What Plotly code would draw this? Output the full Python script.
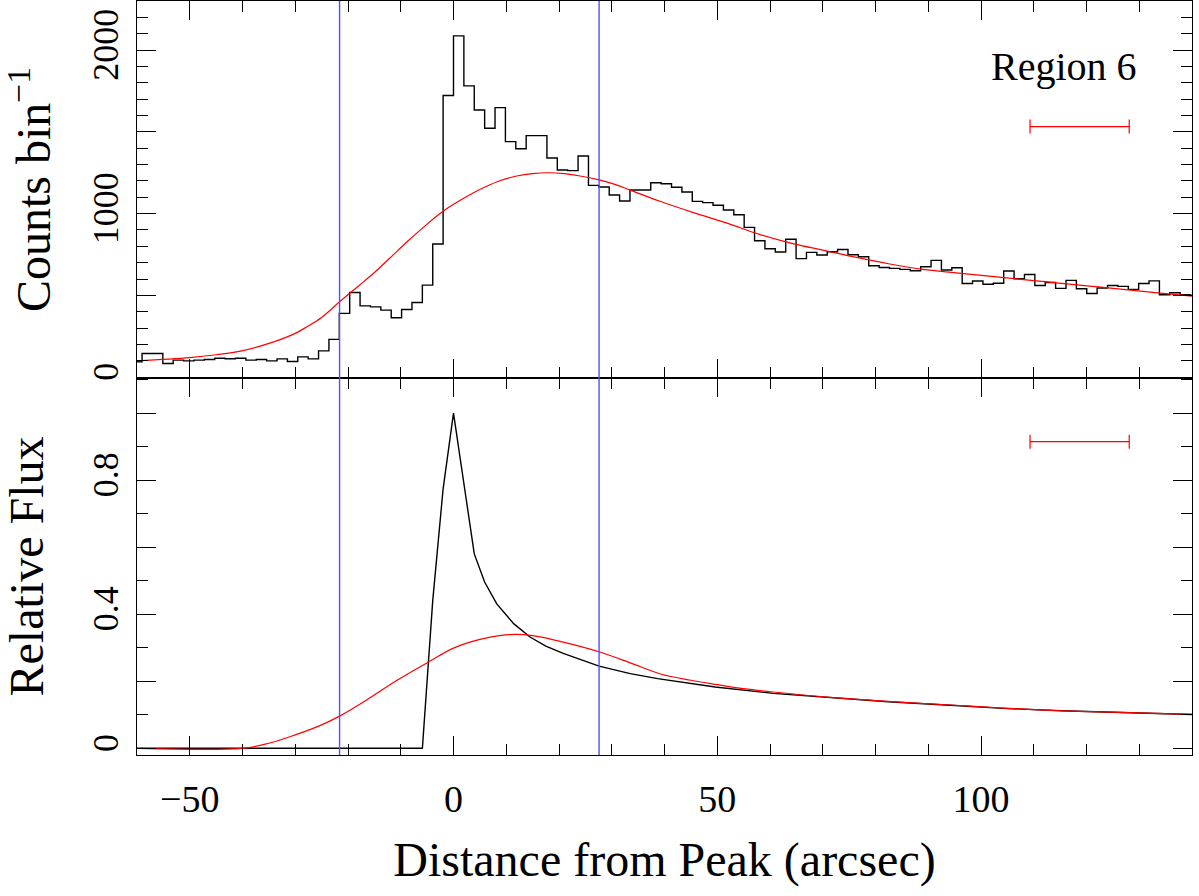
import numpy as np
import plotly.graph_objects as go

# ---------------- data ----------------
BIN_WIDTH = 1.968          # arcsec (4 ACIS pixels)
FIRST_BIN = -31            # index of first bin edge (edge = k * BIN_WIDTH)
counts = [94, 145, 145, 84, 104, 100, 104, 108, 116, 113,
          116, 104, 108, 100, 112, 96, 124, 112, 161, 231,
          390, 518, 436, 430, 410, 363, 414, 457, 563, 814,
          1722, 2087, 1781, 1634, 1522, 1648, 1440, 1397, 1477, 1477,
          1340, 1267, 1263, 1352, 1173, 1163, 1114, 1077, 1144, 1144,
          1189, 1183, 1161, 1132, 1075, 1067, 1051, 1022, 993, 916,
          834, 785, 765, 843, 725, 763, 747, 767, 781, 749,
          736, 681, 671, 665, 659, 651, 675, 714, 655, 669,
          573, 588, 568, 574, 649, 602, 628, 561, 579, 543,
          592, 541, 512, 545, 561, 555, 537, 573, 589, 504,
          516, 504, 500]

model_top_x = [-60, -50, -45, -40.4, -34.1, -30, -27.8, -25, -21.6, -18, -15.15,
               -12, -8.8, -5.5, -2.5, 0, 3.8, 6, 8.8, 12, 15, 18, 21, 24, 27.6,
               30, 33.5, 39, 45.5, 52, 58, 64.5, 70, 76.4, 82.7, 89, 95.3,
               101.6, 108, 114.3, 120.6, 126.9, 133.5, 140]
model_top_y = [100, 120, 137, 159, 216, 268, 308, 365, 461, 558, 635,
               730, 828, 922, 1002, 1057, 1128, 1163, 1201, 1230, 1245, 1250,
               1244, 1230, 1206, 1185, 1144, 1077, 1006, 940, 873, 815, 777,
               732, 692, 659, 638, 618, 597, 577, 557, 537, 516, 496]

psf_x = [-60, -5.9, -3.94, -1.97, 0, 1.97, 3.94, 5.9, 8.2, 11.4, 14.5, 17.5,
         20.8, 27.6, 33.5, 38.7, 49.6, 60.6, 71.5, 82.4, 93.3, 104.3, 115.2,
         126.1, 140]
psf_y = [0, 0, 0.44, 0.774, 1.0, 0.785, 0.58, 0.496, 0.431, 0.372, 0.332, 0.305,
         0.283, 0.245, 0.223, 0.208, 0.183, 0.164, 0.151, 0.139, 0.129, 0.119,
         0.112, 0.107, 0.101]

conv_x = [-60, -40, -35, -30, -25, -21.6, -17, -10.7, -4.7, 0, 5, 9, 12, 15,
          20.8, 27.6, 33.5, 39.4, 45, 49.6, 55, 60.6, 71.5, 82.4, 93.3, 104.3,
          115.2, 126.1, 140]
conv_y = [0, 0, 0.015, 0.040, 0.070, 0.096, 0.139, 0.203, 0.258, 0.299, 0.325,
          0.337, 0.340, 0.336, 0.317, 0.288, 0.255, 0.221, 0.203, 0.191, 0.178,
          0.168, 0.152, 0.140, 0.130, 0.120, 0.112, 0.107, 0.101]

region_bounds = [-21.6, 27.6]
scale_bar = [109.3, 128.1]
scale_bar_y_top = 1532
scale_bar_y_bottom = 0.915
label = "Region 6"

# ---------------- figure ----------------
edges = (FIRST_BIN + np.arange(len(counts) + 1)) * BIN_WIDTH
step_y = counts + [counts[-1]]

FONT = "Liberation Serif"
fig = go.Figure()

fig.add_trace(go.Scatter(x=edges, y=step_y, mode="lines", line_shape="hv",
                         line=dict(color="black", width=1.4),
                         xaxis="x", yaxis="y", showlegend=False))
fig.add_trace(go.Scatter(x=model_top_x, y=model_top_y, mode="lines",
                         line_shape="spline",
                         line=dict(color="#ff0000", width=1.2),
                         xaxis="x", yaxis="y", showlegend=False))
fig.add_trace(go.Scatter(x=psf_x, y=psf_y, mode="lines",
                         line=dict(color="black", width=1.4),
                         xaxis="x2", yaxis="y2", showlegend=False))
fig.add_trace(go.Scatter(x=conv_x, y=conv_y, mode="lines", line_shape="spline",
                         line=dict(color="#ff0000", width=1.2),
                         xaxis="x2", yaxis="y2", showlegend=False))

bar_c = (scale_bar[0] + scale_bar[1]) / 2
bar_h = (scale_bar[1] - scale_bar[0]) / 2
for ax, yy in (("", scale_bar_y_top), ("2", scale_bar_y_bottom)):
    fig.add_trace(go.Scatter(x=[bar_c], y=[yy], mode="markers",
                             marker=dict(size=1, color="rgba(0,0,0,0)"),
                             error_x=dict(type="constant", value=bar_h,
                                          color="#ff0000", thickness=1.2, width=7),
                             xaxis="x" + ax, yaxis="y" + ax, showlegend=False))

for b in region_bounds:
    fig.add_shape(type="line", xref="x", yref="paper", x0=b, x1=b, y0=0, y1=1,
                  line=dict(color="rgb(80,80,255)", width=1.4))

fig.add_annotation(x=115.7, y=1899, xref="x", yref="y", text=label,
                   showarrow=False, xanchor="center", yanchor="middle",
                   font=dict(family=FONT, size=40, color="black"))

LW = 1.2
common_x = dict(range=[-60, 140], showgrid=False, zeroline=False, automargin=False,
                showline=True, linecolor="black", linewidth=LW, mirror="allticks",
                ticks="inside", ticklen=19, tickwidth=1.3, tickcolor="black",
                tickmode="linear", tick0=0, dtick=50,
                minor=dict(dtick=10, tick0=0, ticklen=11, tickwidth=1.3,
                           tickcolor="black", ticks="inside"))
common_y = dict(showgrid=False, zeroline=False, automargin=False,
                showline=True, linecolor="black", linewidth=LW, mirror="allticks",
                ticks="inside", ticklen=19, tickwidth=1.3, tickcolor="black",
                tickmode="linear", tick0=0, ticklabelstep=2, tickangle=-90,
                tickfont=dict(size=36), ticklabelstandoff=4)

fig.update_layout(
    width=1199, height=896,
    margin=dict(l=137, r=7, t=1, b=141, autoexpand=False),
    paper_bgcolor="white", plot_bgcolor="white",
    font=dict(family=FONT, color="black", size=37),
    xaxis=dict(common_x, anchor="y", domain=[0, 1], showticklabels=False,
               matches="x2"),
    xaxis2=dict(common_x, anchor="y2", domain=[0, 1],
                tickfont=dict(size=38), ticklabelstandoff=10,
                title=dict(text="Distance from Peak (arcsec)",
                           font=dict(size=48), standoff=23)),
    yaxis=dict(common_y, domain=[0.5, 1], range=[-5, 2300], dtick=500,
               minor=dict(dtick=100, tick0=0, ticklen=11, tickwidth=1.3,
                          tickcolor="black", ticks="inside"),
               title=dict(text="Counts bin<sup>\u22121</sup>",
                          font=dict(size=48), standoff=32),
               anchor="x"),
    yaxis2=dict(common_y, domain=[0, 0.5], range=[-0.02, 1.105], dtick=0.2,
                minor=dict(dtick=0.1, tick0=0, ticklen=11, tickwidth=1.3,
                           tickcolor="black", ticks="inside"),
                title=dict(text="Relative Flux", font=dict(size=48), standoff=32),
                anchor="x2"),
)

fig.write_html("out.html", config={"displayModeBar": False},
               post_script="document.body.style.margin='0px';"
                           "document.body.style.overflow='hidden';")
